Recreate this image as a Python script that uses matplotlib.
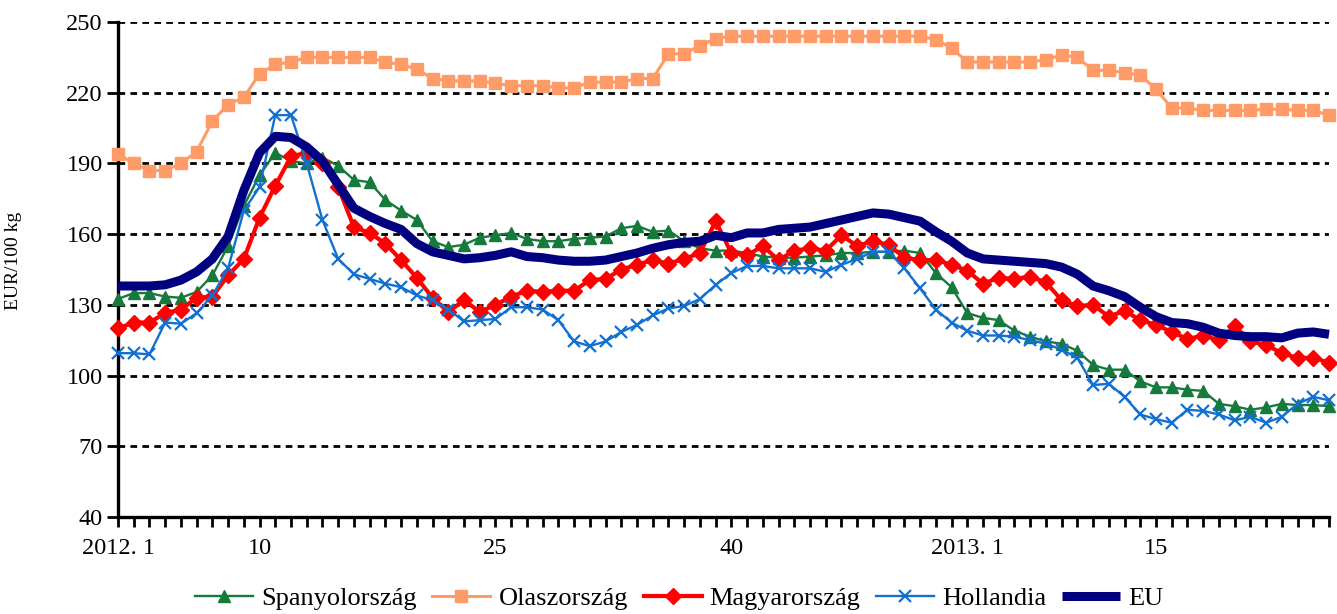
import matplotlib
matplotlib.use("Agg")
import matplotlib.pyplot as plt

# weekly pig prices, 2012 week 1 .. 2013, EUR/100 kg
spanyol = [132.5, 135, 135, 133.5, 133, 135.5, 142.5, 155, 172, 185,
           194.5, 191, 190, 192.5, 189, 183, 182, 174.5, 170, 166,
           157, 154.5, 155.5, 158.5, 159.5, 160.5, 158, 157, 157, 158,
           158.5, 159, 162.5, 163.5, 161, 161.5, 157, 154, 153, 153,
           152, 150.5, 150, 150, 150.5, 151, 152, 152, 152.5, 152.5,
           153, 152, 143.5, 137.5, 126.5, 124.5, 123.5, 119, 116.5, 114.5,
           113.5, 110.5, 104.5, 102.5, 102.5, 97.5, 95, 95, 94, 93.5,
           88, 87, 85.5, 86.5, 88, 87.5, 87.5, 87]
olasz = [194, 190, 187, 187, 190, 195, 208, 215, 218, 228,
         232, 233, 235, 235, 235, 235, 235, 233, 232, 230,
         226, 225, 225, 225, 224, 223, 223, 223, 222, 222,
         224.5, 224.5, 224.5, 226, 226, 236.5, 236.5, 240, 243, 244,
         244, 244, 244, 244, 244, 244, 244, 244, 244, 244,
         244, 244, 242.5, 239, 233, 233, 233, 233, 233, 234,
         236, 235, 229.5, 229.5, 228.5, 227.5, 221.5, 213.5, 213.5, 212.5,
         212.5, 212.5, 212.5, 213, 213, 212.5, 212.5, 210.5]
magyar = [120, 122.5, 122.5, 126.5, 128, 133, 133.5, 142.5, 149.5, 167,
          180.5, 193, 194.5, 190, 180, 163, 160.5, 156, 149, 141.5,
          133, 127, 132, 127, 130, 133.5, 136, 135.5, 136, 136,
          140.5, 141, 145, 147, 149, 147.5, 149.5, 152, 165.5, 152,
          151, 155, 149, 153, 154, 153, 159.5, 155, 157, 155.5,
          150, 149, 149, 147, 144.5, 139, 141.5, 141, 142, 139.5,
          132, 129.5, 130, 125, 127.5, 123.5, 121.5, 118.5, 115.5, 117,
          115, 121, 114.5, 113, 109.5, 107.5, 107.5, 105.5]
holland = [109.5, 109.5, 109, 122.5, 122, 126.5, 134, 145.5, 170, 180,
           210.5, 210.5, 190, 166, 149.5, 143, 141, 139, 137.5, 134,
           132, 128, 123, 123.5, 124, 129, 129, 128, 123.5, 114.5,
           112.5, 114.5, 118.5, 121.5, 125.5, 128.5, 129.5, 132.5, 138.5, 143.5,
           146.5, 146.5, 145.5, 145.5, 145.5, 144, 147, 149.5, 152.5, 152.5,
           145.5, 137, 128, 122.5, 119, 117, 117, 116.5, 115, 113.5,
           111, 107.5, 96, 96.5, 91, 83.5, 81.5, 80, 85.5, 85,
           83.5, 81, 82.5, 80, 82.5, 88, 91, 89.5]
eu = [138, 138, 138, 138.5, 140.5, 144, 149.5, 159, 178.5, 194.5,
      201.5, 201, 197, 191, 181, 171, 167.5, 164.5, 162, 156,
      152.5, 151, 149.5, 150, 151, 152.5, 150.5, 150, 149, 148.5,
      148.5, 149, 150.5, 152, 154, 155.5, 156.5, 157, 159.5, 158.5,
      160.5, 160.5, 162, 162.5, 163, 164.5, 166, 167.5, 169, 168.5,
      167, 165.5, 161, 157, 152, 149.5, 149, 148.5, 148, 147.5,
      146, 143, 138, 136, 133.5, 129, 125, 122.5, 122, 120.5,
      118, 117, 116.5, 116.5, 116, 118, 118.5, 117.5]

tick_pos = [0, 9, 24, 39, 54, 66]
tick_labels = ["2012. 1", "10", "25", "40", "2013. 1", "15"]
y_ticks = [40, 70, 100, 130, 160, 190, 220, 250]

plt.rcParams["font.family"] = "serif"
plt.rcParams["font.serif"] = ["Liberation Serif", "DejaVu Serif"]

weeks = list(range(len(eu)))

fig = plt.figure(figsize=(13.37, 6.14), dpi=100)
ax = fig.add_axes([118 / 1337, 97 / 614, 1211 / 1337, 495 / 614])

for y in y_ticks[1:]:
    ax.axhline(y, color="black", lw=2, ls=(0, (2.4, 1.9)), zorder=1)

ax.plot(weeks, spanyol, color="#157a3c", lw=1.7, marker="^", ms=9,
        label="Spanyolország", clip_on=False, zorder=3)
ax.plot(weeks, olasz, color="#ff9b66", lw=2.2, marker="s", ms=9,
        label="Olaszország", clip_on=False, zorder=3)
ax.plot(weeks, magyar, color="#ff0000", lw=3, marker="D", ms=8.5,
        label="Magyarország", clip_on=False, zorder=3)
ax.plot(weeks, holland, color="#1170d0", lw=1.7, marker="x", ms=8, mew=1.6,
        label="Hollandia", clip_on=False, zorder=3)
ax.plot(weeks, eu, color="#000080", lw=6.5, label="EU",
        solid_capstyle="butt", clip_on=False, zorder=4)

ax.set_xlim(0, len(eu) - 1)
ax.set_ylim(40, 250)
ax.set_yticks(y_ticks)
ax.set_xticks(weeks, minor=True)
ax.set_xticks(tick_pos)
ax.set_xticklabels(tick_labels)

ax.spines["top"].set_visible(False)
ax.spines["right"].set_visible(False)
ax.spines["left"].set_linewidth(2.4)
ax.spines["bottom"].set_linewidth(2.4)
ax.tick_params(axis="y", direction="out", length=8, width=2, labelsize=17.5, pad=3)
ax.tick_params(axis="x", which="both", direction="out", length=7, width=2,
               labelsize=17.5, pad=8)

ax.set_ylabel("EUR/100 kg", fontsize=14)
ax.yaxis.set_label_coords(-0.079, 0.517)

fig.legend(loc="center", bbox_to_anchor=(0.508, 0.026), ncol=5, frameon=False,
           fontsize=19, handlelength=2.2, handletextpad=0.3, columnspacing=0.6)

fig.savefig("out.png", dpi=100)
